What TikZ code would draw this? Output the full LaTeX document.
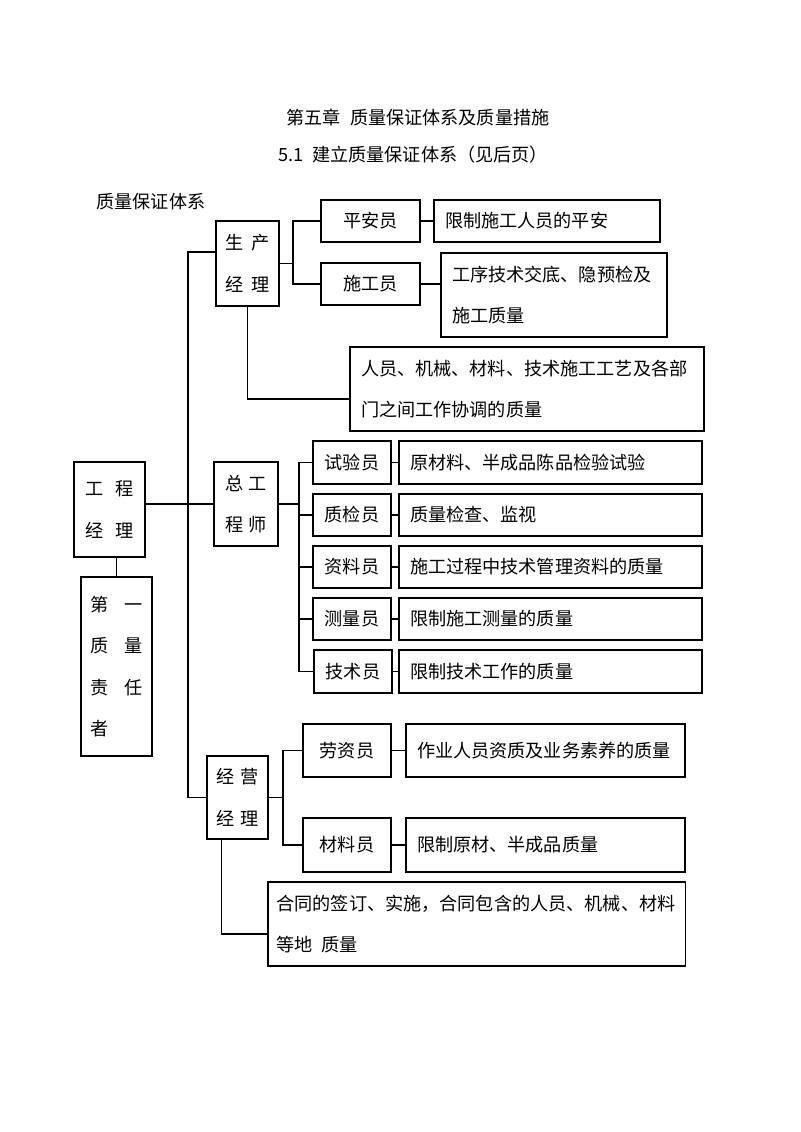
\documentclass[tikz,border=0pt]{standalone}
\usepackage{fontspec}
\setmainfont{Noto Sans CJK SC}
\usetikzlibrary{positioning}

\tikzset{
  every node/.style={font=\fontsize{13.6pt}{31pt}\selectfont},
  box/.style={draw, inner sep=0pt},
  wh/.style 2 args={minimum width=#1*0.75pt, minimum height=#2*0.75pt},
  desc/.style={draw, align=left, inner xsep=8.25pt, inner ysep=0pt},
}

\begin{document}
\begin{tikzpicture}[x=0.75pt,y=-0.75pt,line width=0.8pt]
\useasboundingbox (0,0) rectangle (800,1132);

% Headings
\node (title) at (418,117) {第五章\hspace{0.5em}质量保证体系及质量措施};
\node (sect) at (413,155) {5.1\hspace{0.5em}建立质量保证体系（见后页）};
\node[anchor=west, inner sep=0pt] (sub) at (96,202) {质量保证体系};

% Project manager
\node[box, wh={71}{95}, align=left] (gcjl) at (109.5,509.5) {工\hspace{0.7em}程\\经\hspace{0.7em}理};
\node[box, wh={71}{179}, align=left] (dyzl) at (116.5,666.5) {第\hspace{0.9em}一\\质\hspace{0.9em}量\\责\hspace{0.9em}任\\者};

% Production manager
\node[box, wh={63}{85}, align=left] (scjl) at (247.5,263.5) {生\hspace{0.4em}产\\经\hspace{0.4em}理};
\node[box, wh={99}{42}] (pay) at (370.5,221) {平安员};
\node[box, wh={99}{42}] (sgy) at (370.5,284) {施工员};
\node[desc, text width=153pt, minimum height=31.5pt] (payd) at (547,221) {限制施工人员的平安};
\node[desc, text width=153pt, minimum height=63pt] (sgyd) at (554,295) {工序技术交底、隐预检及\\施工质量};
\node[desc, text width=249pt, minimum height=63pt] (scd) at (527,389) {人员、机械、材料、技术施工工艺及各部\\门之间工作协调的质量};

% Chief engineer
\node[box, wh={64}{84}, align=left] (zgcs) at (246,504) {总\hspace{0.3em}工\\程\hspace{0.3em}师};
\node[box, wh={78}{43}] (syy) at (352,462.5) {试验员};
\node[box, wh={78}{42}] (zjy) at (352,515) {质检员};
\node[box, wh={78}{42}] (zly) at (352,567) {资料员};
\node[box, wh={78}{42}] (cel) at (352,619) {测量员};
\node[box, wh={78}{43}] (jsy) at (353,671.5) {技术员};
\node[desc, text width=210.75pt, minimum height=32.25pt] (syyd) at (550.5,462.5) {原材料、半成品陈品检验试验};
\node[desc, text width=210.75pt, minimum height=31.5pt] (zjyd) at (550.5,515) {质量检查、监视};
\node[desc, text width=210.75pt, minimum height=31.5pt] (zlyd) at (550.5,567) {施工过程中技术管理资料的质量};
\node[desc, text width=210.75pt, minimum height=31.5pt] (celd) at (550.5,619) {限制施工测量的质量};
\node[desc, text width=210.75pt, minimum height=32.25pt] (jsyd) at (550.5,671.5) {限制技术工作的质量};

% Business manager
\node[box, wh={61}{83}, align=left] (jyjl) at (237.5,797.5) {经\hspace{0.3em}营\\经\hspace{0.3em}理};
\node[box, wh={88}{53}] (lzy) at (347,750.5) {劳资员};
\node[box, wh={88}{54}] (cly) at (347,845) {材料员};
\node[desc, text width=192.75pt, minimum height=39.75pt] (lzyd) at (545.5,750.5) {作业人员资质及业务素养的质量};
\node[desc, text width=192.75pt, minimum height=40.5pt] (clyd) at (545.5,845) {限制原材、半成品质量};
\node[desc, text width=300pt, inner xsep=6.4pt, minimum height=63pt] (htd) at (476.5,924) {合同的签订、实施，合同包含的人员、机械、材料\\等地\hspace{0.5em}质量};

% Trunk
\coordinate (tk) at (188,252);
\draw (scjl.west |- tk) -- (tk) |- (jyjl.west);
\draw (gcjl.east |- zgcs.west) -- (zgcs.west);
\draw (dyzl.north |- gcjl.south) -- (dyzl.north);

% Production branch
\coordinate (f1) at (293,263.5);
\draw (scjl.east) -- (f1);
\draw (pay.west) -| (f1) |- (sgy.west);
\draw (pay) -- (payd);
\draw (sgy.east) -- (sgy.east -| sgyd.west);
\draw (scjl.south) |- ([yshift=-7.5pt]scd.west);

% Chief engineer branch
\coordinate (f2) at (299,504);
\draw (zgcs.east) -- (f2);
\draw (syy.west) -| (f2) |- (jsy.west);
\draw (f2 |- zjy.west) -- (zjy.west);
\draw (f2 |- zly.west) -- (zly.west);
\draw (f2 |- cel.west) -- (cel.west);
\draw (syy) -- (syyd);
\draw (zjy) -- (zjyd);
\draw (zly) -- (zlyd);
\draw (cel) -- (celd);
\draw (jsy) -- (jsyd);

% Business branch
\coordinate (f3) at (283,797.5);
\draw (jyjl.east) -- (f3);
\draw (lzy.west) -| (f3) |- (cly.west);
\draw (lzy) -- (lzyd);
\draw (cly) -- (clyd);
\draw ([xshift=-12pt]jyjl.south) |- ([yshift=-7.5pt]htd.west);
\end{tikzpicture}
\end{document}
